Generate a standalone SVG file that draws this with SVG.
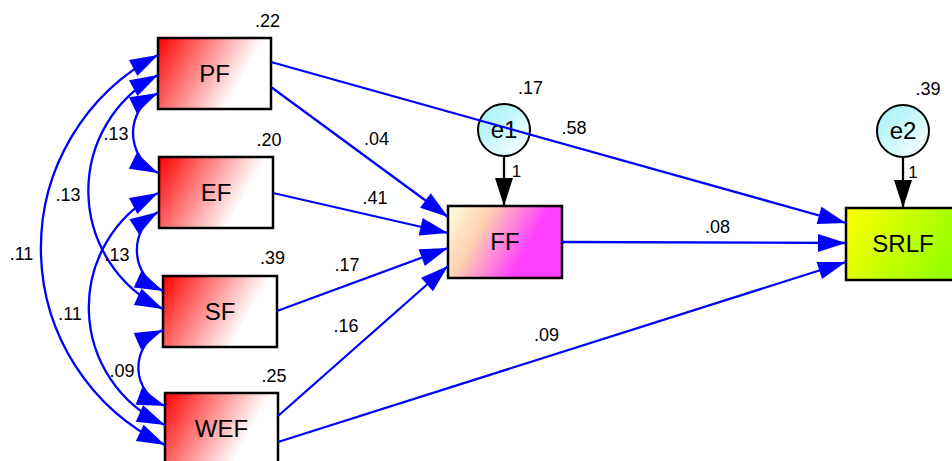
<svg xmlns="http://www.w3.org/2000/svg" width="952" height="461" viewBox="0 0 952 461">
<defs>
<style>
.box{stroke:#000;stroke-width:2.5}
.circ{stroke:#000;stroke-width:2;fill:url(#gE)}
.lbl{font-family:"Liberation Sans",Arial,sans-serif;font-size:24px;fill:#000;text-anchor:middle}
.num{font-family:"Liberation Sans",Arial,sans-serif;font-size:18px;fill:#000;text-anchor:middle}
.one{font-family:"Liberation Sans",Arial,sans-serif;font-size:17px;fill:#000;text-anchor:middle}
.path{fill:none;stroke:#0000FF;stroke-width:2.3;marker-end:url(#ab)}
.cov{fill:none;stroke:#0000FF;stroke-width:2.3;marker-start:url(#ab);marker-end:url(#ab)}
.err{fill:none;stroke:#000;stroke-width:2.3;marker-end:url(#ak)}
</style>
<linearGradient id="gR" x1="0" y1="0" x2="1" y2="0.35"><stop offset="0" stop-color="#FF0000"/><stop offset="0.84" stop-color="#FFFFFF"/></linearGradient>
<linearGradient id="gF" x1="0" y1="0" x2="1" y2="0.35"><stop offset="0" stop-color="#FFFFE0"/><stop offset="0.35" stop-color="#FFD0B0"/><stop offset="0.8" stop-color="#FF40FF"/></linearGradient>
<linearGradient id="gS" x1="0" y1="0" x2="1" y2="0.35"><stop offset="0" stop-color="#FFFF00"/><stop offset="1" stop-color="#99FF00"/></linearGradient>
<linearGradient id="gE" x1="0" y1="0" x2="1" y2="1"><stop offset="0.2" stop-color="#B0F4FA"/><stop offset="1" stop-color="#FFFFFF"/></linearGradient>
<marker id="ab" markerUnits="userSpaceOnUse" markerWidth="29" markerHeight="19" refX="28" refY="9" orient="auto-start-reverse" overflow="visible"><path d="M0,0 L28,9 L0,18 z" fill="#0000FF"/></marker>
<marker id="ak" markerUnits="userSpaceOnUse" markerWidth="29" markerHeight="19" refX="28" refY="9" orient="auto" overflow="visible"><path d="M0,0 L28,9 L0,18 z" fill="#000"/></marker>
</defs>
<rect width="952" height="461" fill="#FFFFFF"/>
<g id="PF"><rect class="box" x="158" y="38" width="113" height="71" fill="url(#gR)"/><text class="lbl" x="214.5" y="82">PF</text><text class="num" x="267.5" y="27">.22</text></g>
<g id="EF"><rect class="box" x="159" y="157" width="114" height="71" fill="url(#gR)"/><text class="lbl" x="216" y="201">EF</text><text class="num" x="269" y="146">.20</text></g>
<g id="SF"><rect class="box" x="163" y="276" width="114" height="71" fill="url(#gR)"/><text class="lbl" x="220" y="320">SF</text><text class="num" x="272.5" y="264">.39</text></g>
<g id="WEF"><rect class="box" x="165" y="393" width="113" height="71" fill="url(#gR)"/><text class="lbl" x="221.5" y="437">WEF</text><text class="num" x="274" y="382">.25</text></g>
<g id="FF"><rect class="box" x="448" y="206" width="114" height="72" fill="url(#gF)"/><text class="lbl" x="505" y="250">FF</text></g>
<g id="SRLF"><rect class="box" x="846" y="208" width="114" height="72" fill="url(#gS)"/><text class="lbl" x="903" y="252">SRLF</text></g>
<g id="e1"><circle class="circ" cx="504" cy="130" r="26"/><text class="lbl" x="504" y="138">e1</text><text class="num" x="530.5" y="94">.17</text></g>
<g id="e2"><circle class="circ" cx="903" cy="131" r="26"/><text class="lbl" x="903" y="139">e2</text><text class="num" x="928" y="95">.39</text></g>
<g id="connectors">
<path class="path" d="M271,62 L846,223"/>
<path class="path" d="M271,87 L448,217"/>
<path class="path" d="M273,193 L448,233"/>
<path class="path" d="M277,311 L448,248"/>
<path class="path" d="M278,416 L448,266"/>
<path class="path" d="M562,242 L846,243"/>
<path class="path" d="M278,442 L846,262"/>
<path class="err" d="M504,156 L504,206"/>
<path class="err" d="M903,157 L903,208"/>
<path class="cov" d="M158,55 A218,218 0 0 0 165,445"/>
<path class="cov" d="M158,75 A131,131 0 0 0 163,309"/>
<path class="cov" d="M158,93 A44.5,44.5 0 0 0 158,173"/>
<path class="cov" d="M158,193 A129,129 0 0 0 165,425"/>
<path class="cov" d="M158,212 A45,45 0 0 0 163,291"/>
<path class="cov" d="M163,330 A41,41 0 0 0 165,406"/>
<text class="num" x="376.5" y="145">.04</text>
<text class="num" x="574" y="134">.58</text>
<text class="num" x="375" y="204">.41</text>
<text class="num" x="347" y="271">.17</text>
<text class="num" x="346" y="332">.16</text>
<text class="num" x="717.5" y="233">.08</text>
<text class="num" x="546.5" y="341">.09</text>
<text class="one" x="516.5" y="177">1</text>
<text class="one" x="913" y="178">1</text>
<text class="num" x="116" y="140">.13</text>
<text class="num" x="68" y="201">.13</text>
<text class="num" x="21.5" y="260">.11</text>
<text class="num" x="117" y="261">.13</text>
<text class="num" x="70" y="320">.11</text>
<text class="num" x="122" y="377">.09</text>
</g>
</svg>
